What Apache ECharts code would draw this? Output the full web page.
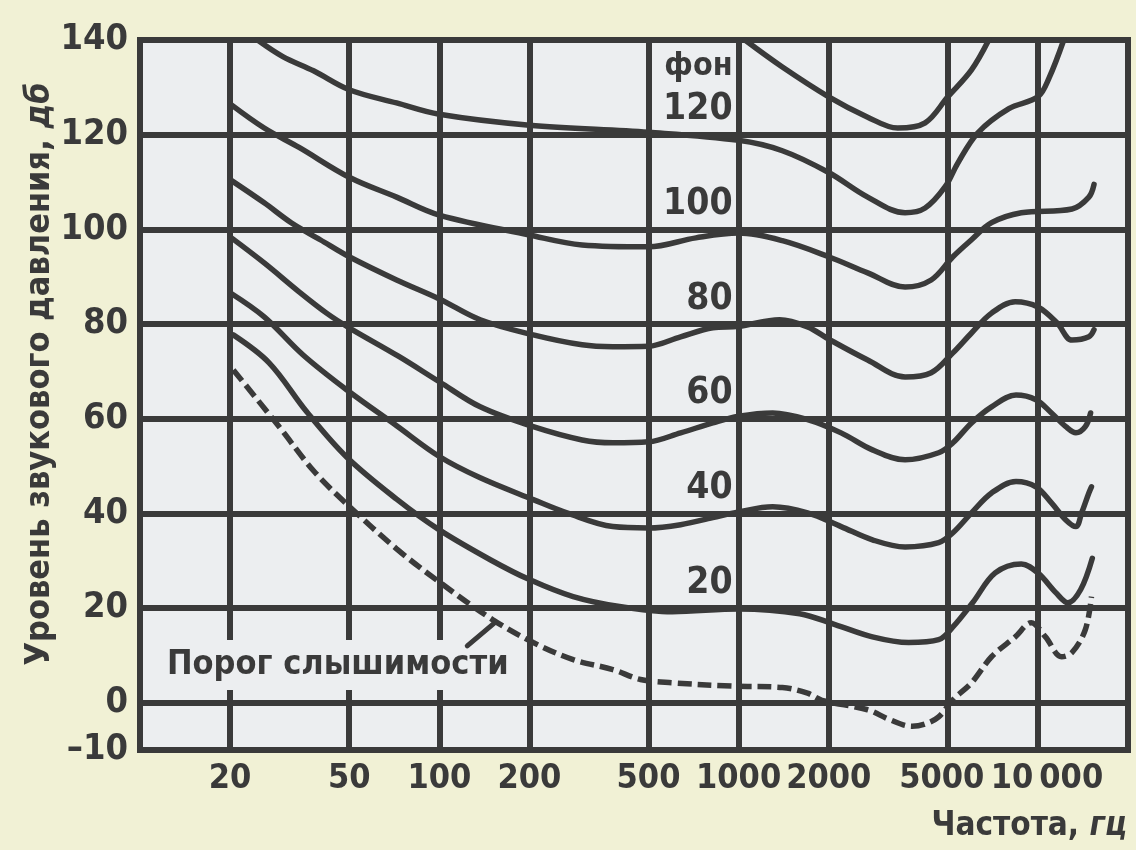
<!DOCTYPE html>
<html>
<head>
<meta charset="utf-8">
<script src="https://cdn.jsdelivr.net/npm/echarts@6/dist/echarts.min.js"></script>
<style>
html,body{margin:0;padding:0;background:#f1f1d5;}
#c{width:1136px;height:850px;}
</style>
</head>
<body>
<div id="c"></div>
<script>
// ---- axis ticks / grid ----
const xTickValues = [20, 50, 100, 200, 500, 1000, 2000, 5000, 10000];
const yTickValues = [-10, 0, 20, 40, 60, 80, 100, 120, 140];
const xGridValues = [20, 50, 100, 200, 500, 1000, 2000, 5000, 10000];
const yGridValues = [0, 20, 40, 60, 80, 100, 120];

// ---- curves: [frequency Hz, level dB] ----
const curveTop = [[1050,140],[1400,134.3],[2000,128],[2700,123.7],[3400,121.4],[4200,122.5],[5000,128],[6000,133.7],[6850,140]];
const phon120 = [[24.7,140],[30,136.5],[38,133.5],[50,129.5],[72,126.7],[100,124.3],[200,122],[500,120.5],[1000,118.8],[1400,116.6],[2000,112],[2700,106.8],[3600,103.5],[4200,104.5],[4900,109],[5400,114],[6300,120.4],[8000,125.5],[10000,128],[10900,132],[12200,140]];
const phon100 = [[20,126.5],[26,121.4],[34,117.3],[50,111],[72,106.8],[100,103],[200,98.8],[300,96.7],[500,96.3],[720,98.2],[1000,99.2],[1400,97.6],[2000,94.2],[2700,90.8],[3600,87.8],[4400,89.3],[5200,94.2],[6000,97.8],[7000,101.4],[8800,103.5],[13000,104.3],[14800,106.8],[15400,109.5]];
const phon80 = [[20,110.5],[26,105.6],[32,101.4],[40,97.8],[50,94.2],[72,89.3],[100,85.3],[137,80.9],[206,77.7],[300,75.6],[380,75.2],[500,75.3],[640,77.3],[820,79.2],[1000,79.5],[1370,80.9],[1700,79.4],[2000,76.8],[2700,72.4],[3600,68.8],[4400,69.7],[5200,73.9],[6000,78.1],[7000,82.3],[8400,84.7],[10000,83.6],[11600,80.2],[13000,76.6],[14800,77.3],[15400,78.8]];
const phon60 = [[20,98.4],[26,92.9],[34,86.8],[42,82.3],[50,79.2],[73,73.2],[100,67.8],[137,62.5],[206,58.3],[300,55.5],[380,54.9],[500,55.1],[640,57],[820,59.1],[1000,60.5],[1300,61.2],[1700,59.8],[2200,57],[2800,53.4],[3600,51.3],[4660,52.8],[5200,54.9],[6000,59.1],[7000,62.5],[8450,65],[9850,64],[11100,61.2],[12400,58.3],[13400,57],[14400,58.3],[15000,61.2]];
const phon40 = [[20,86.6],[26,81.5],[35,73.5],[49,66.1],[72,58.5],[100,52],[137,47.5],[206,42.9],[267,40.1],[380,37.2],[500,36.9],[640,37.6],[820,39.1],[1000,40.3],[1300,41.4],[1700,40.1],[2200,37.2],[2800,34.4],[3600,32.9],[4660,33.8],[5200,35.9],[6000,40.1],[7000,44.3],[8450,46.7],[9850,45.6],[11100,42.2],[12400,38.6],[13400,37.2],[14000,40.1],[14800,44.3],[15100,45.6]];
const phon20 = [[20.5,77.7],[27,71.8],[36,61.5],[49,51.9],[72,43],[100,36.5],[148,30.2],[200,26],[280,22.4],[400,20.3],[600,19.2],[1000,19.8],[1600,18.8],[2100,16.5],[2800,13.9],[3700,12.7],[4660,13.3],[5200,16],[6050,21.1],[7200,27.4],[8800,29.3],[10000,27.4],[11500,23.2],[12600,21.1],[13900,23.9],[15200,30.5]];
const threshold = [[20.5,70.3],[29,58.5],[38,49],[49,42],[72,32.5],[100,25.5],[151,17.5],[206,12.7],[280,9.1],[380,7],[470,4.9],[600,4.2],[950,3.5],[1400,3.2],[1700,2],[1900,0.5],[2700,-1.5],[3200,-3.6],[3800,-5],[4200,-4.5],[4660,-3],[5200,0.6],[6000,4.2],[7000,9.7],[8400,13.9],[9500,16.9],[10600,13.9],[12000,9.7],[13000,10.6],[14400,15.4],[15100,22.4]];

const phonLevels = [120, 100, 80, 60, 40, 20];
const phonLabels = ['120', '100', '80', '60', '40', '20'];

const INK = '#3a3a3a';
const PLOT_BG = '#eceef0';
const FONT = "'Liberation Sans Narrow','DejaVu Sans Condensed','Arial Narrow',sans-serif";
const LW = 5.5;

function curve(name, data, dashed) {
  return {
    name: name, type: 'line', data: data, smooth: 0.35, showSymbol: false, symbol: 'none',
    silent: true, z: 3,
    lineStyle: { color: INK, width: LW, type: dashed ? [14, 6] : 'solid', cap: dashed ? 'butt' : 'round' }
  };
}

const chart = echarts.init(document.getElementById('c'), null, { renderer: 'canvas' });

const labelFont = { fontFamily: FONT, fontWeight: 'bold', fontSize: 34, color: INK };
const option = {
  backgroundColor: '#f1f1d5',
  animation: false,
  grid: { left: 140, right: 8, top: 40, bottom: 100, show: true, backgroundColor: PLOT_BG, borderColor: INK, borderWidth: 6 },
  xAxis: {
    type: 'log', logBase: 10, min: 10, max: 20000,
    axisLine: { show: false }, axisTick: { show: false }, splitLine: { show: false }, minorSplitLine: { show: false },
    axisLabel: {
      customValues: xTickValues, margin: 12, showMaxLabel: true, showMinLabel: true, hideOverlap: false,
      width: 50, overflow: 'none',
      fontFamily: FONT, fontWeight: 'bold', fontSize: 34, color: INK,
      formatter: function (v) {
        if (v === 10000) return '{r|10\u2009000}';
        if (v === 5000) return '{l|5000}';
        return String(v);
      },
      rich: {
        l: Object.assign({ padding: [0, 12, 0, 0] }, labelFont),
        r: Object.assign({ padding: [0, 0, 0, 18] }, labelFont)
      }
    }
  },
  yAxis: {
    type: 'value', min: -10, max: 140, interval: 10,
    axisLine: { show: false }, axisTick: { show: false }, splitLine: { show: false },
    axisLabel: {
      customValues: yTickValues, margin: 12,
      fontFamily: FONT, fontWeight: 'bold', fontSize: 36, color: INK,
      formatter: function (v) { return v < 0 ? '\u2013' + Math.abs(v) : String(v); }
    }
  },
  series: [
    {
      name: 'grid', type: 'line', data: [], silent: true, z: 2,
      markLine: {
        silent: true, symbol: 'none', animation: false,
        label: { show: false },
        lineStyle: { color: INK, width: 6, type: 'solid' },
        data: xGridValues.map(v => ({ xAxis: v })).concat(yGridValues.map(v => ({ yAxis: v })))
      }
    },
    curve('top', curveTop),
    curve('120', phon120),
    curve('100', phon100),
    curve('80', phon80),
    curve('60', phon60),
    curve('40', phon40),
    curve('20', phon20),
    curve('threshold', threshold, true)
  ]
};
chart.setOption(option);

// annotations positioned via the chart's own scales
const graphics = [];
phonLevels.forEach(function (p, i) {
  const pt = chart.convertToPixel({ gridIndex: 0 }, [1000, p]);
  graphics.push({
    type: 'text', z: 10, x: pt[0] - 6, y: pt[1] - 25,
    style: { text: phonLabels[i], fill: INK, font: 'bold 37px ' + FONT, align: 'right', verticalAlign: 'middle' }
  });
});
const p120 = chart.convertToPixel({ gridIndex: 0 }, [1000, 120]);
graphics.push({
  type: 'text', z: 10, x: p120[0] - 6, y: p120[1] - 68,
  style: { text: 'фон', fill: INK, font: 'bold 32px ' + FONT, align: 'right', verticalAlign: 'middle' }
});
// threshold label
graphics.push({
  type: 'text', z: 10, x: 163, y: 665,
  style: {
    text: 'Порог слышимости', fill: INK, font: 'bold 34px ' + FONT, align: 'left', verticalAlign: 'middle',
    backgroundColor: PLOT_BG, padding: [8, 4, 8, 4]
  }
});
// leader line
const l1 = chart.convertToPixel({ gridIndex: 0 }, [124, 12]);
const l2 = chart.convertToPixel({ gridIndex: 0 }, [154, 17]);
graphics.push({
  type: 'line', z: 10, shape: { x1: l1[0], y1: l1[1], x2: l2[0], y2: l2[1] },
  style: { stroke: INK, lineWidth: 5, lineCap: 'round' }
});
// axis names
graphics.push({
  type: 'text', z: 10, x: 40, y: 374, rotation: Math.PI / 2,
  style: {
    text: '{a|Уровень звукового давления, }{b|дб}', align: 'center', verticalAlign: 'middle',
    rich: {
      a: { fill: INK, font: 'bold 34px ' + FONT },
      b: { fill: INK, font: 'italic bold 34px ' + FONT }
    }
  }
});
graphics.push({
  type: 'text', z: 10, x: 1127, y: 826,
  style: {
    text: '{a|Частота, }{b|гц}', align: 'right', verticalAlign: 'middle',
    rich: {
      a: { fill: INK, font: 'bold 33px ' + FONT },
      b: { fill: INK, font: 'italic bold 33px ' + FONT }
    }
  }
});
chart.setOption({ graphic: graphics });
</script>
</body>
</html>
